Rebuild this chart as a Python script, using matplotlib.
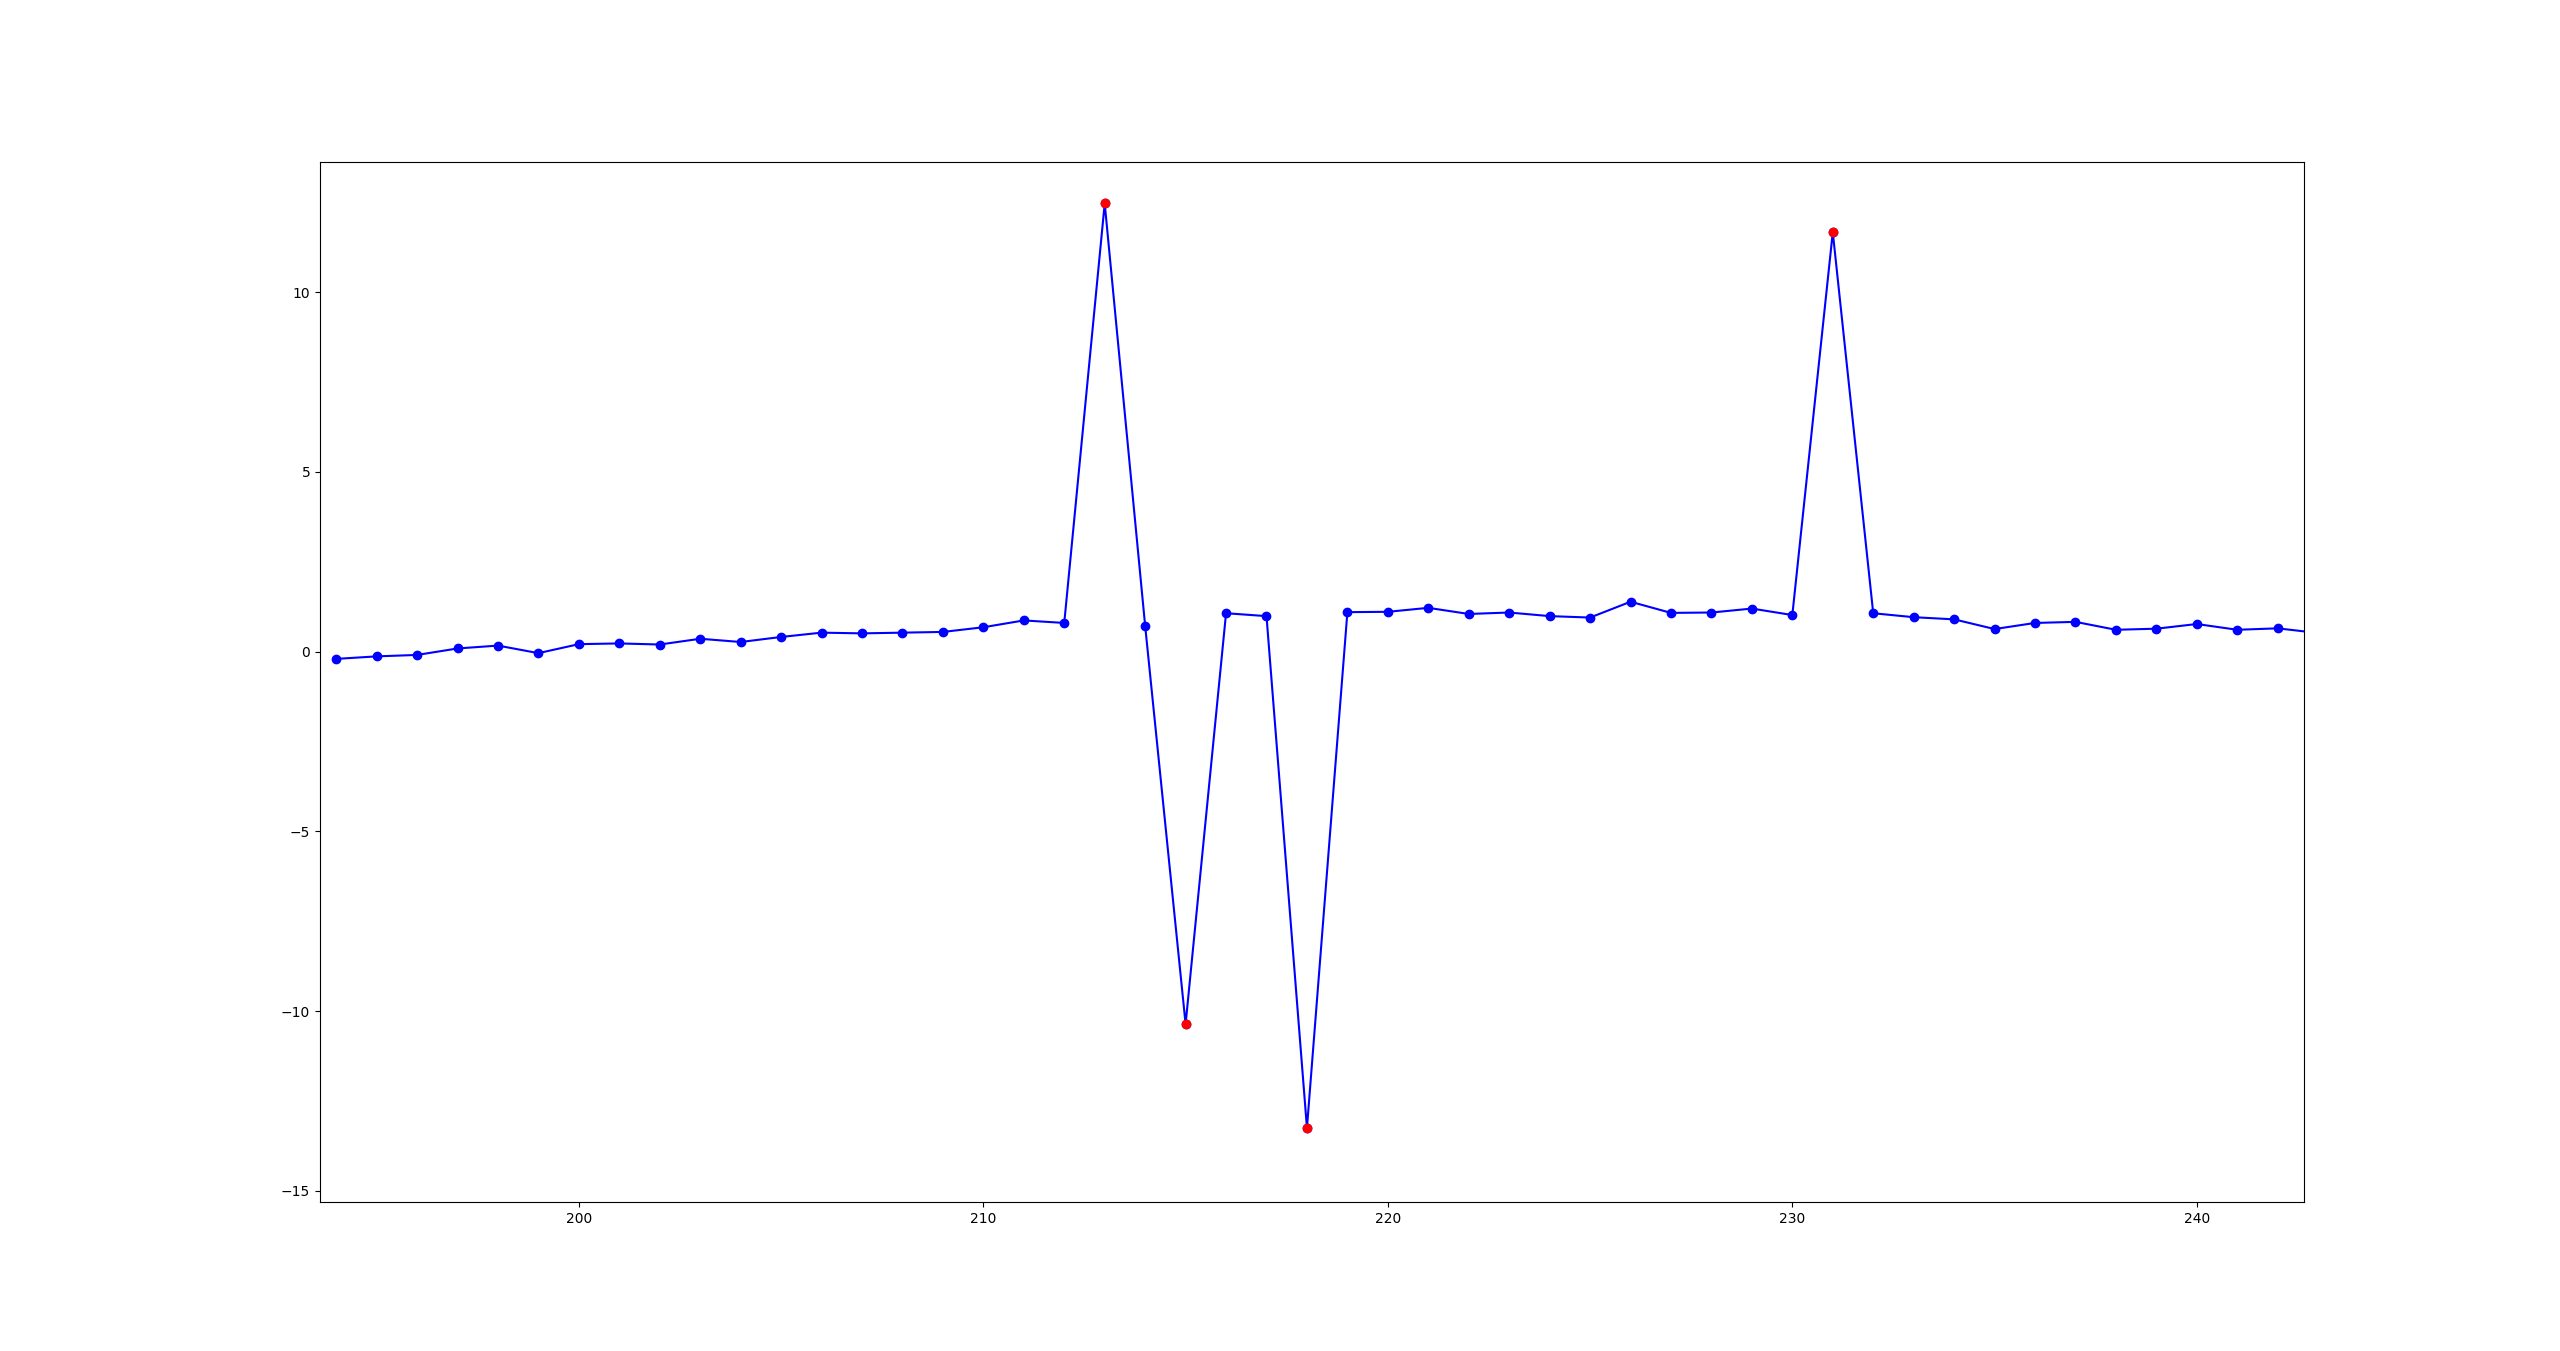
import numpy as np
import matplotlib
matplotlib.use("Agg")
import matplotlib.pyplot as plt

# index of each sample and its value
x = np.arange(194, 244)
values = [
    -0.20, -0.13, -0.09, 0.09, 0.17, -0.04, 0.21, 0.23, 0.20, 0.36,
    0.27, 0.41, 0.53, 0.51, 0.53, 0.55, 0.68, 0.87, 0.80, 12.47,
    0.72, -10.36, 1.07, 0.99, -13.25, 1.10, 1.11, 1.22, 1.05, 1.09,
    0.99, 0.95, 1.39, 1.08, 1.09, 1.20, 1.02, 11.67, 1.07, 0.96,
    0.90, 0.63, 0.80, 0.83, 0.61, 0.64, 0.77, 0.61, 0.65, 0.52,
]

# flagged outliers
anomaly_x = [213, 215, 218, 231]
anomaly_y = [12.47, -10.36, -13.25, 11.67]

fig, ax = plt.subplots(figsize=(25.6, 13.51), dpi=100)
ax.plot(x, values, color="blue", marker="o")
ax.plot(anomaly_x, anomaly_y, "ro")
ax.set_xlim(193.6, 242.65)
ax.set_ylim(-15.32, 13.62)
fig.savefig("out.png", dpi=100)
